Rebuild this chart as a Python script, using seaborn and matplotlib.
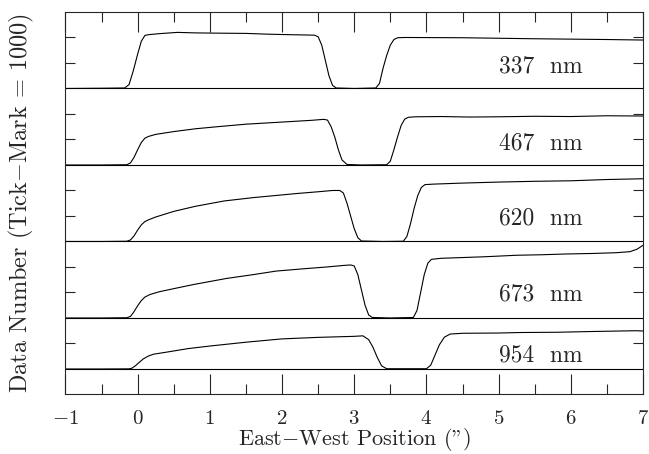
import numpy as np
import pandas as pd
import matplotlib
matplotlib.use('Agg')
import matplotlib.pyplot as plt
import seaborn as sns
from matplotlib.ticker import FixedLocator, MultipleLocator

# east-west scans, data number above the sky level, one list pair per filter
bands = ['337  nm', '467  nm', '620  nm', '673  nm', '954  nm']

x337 = [-1.0, -0.5, -0.18, -0.12, -0.06, 0.0, 0.05, 0.1, 0.15, 0.3, 0.55, 0.8, 1.1, 1.5,
        1.8, 2.1, 2.3, 2.45, 2.5, 2.55, 2.6, 2.65, 2.7, 2.75, 3.0, 3.3, 3.35, 3.4, 3.45,
        3.5, 3.55, 3.6, 3.7, 4.5, 5.5, 6.5, 7.0]
dn337 = [0, 10, 20, 150, 700, 1350, 1850, 2080, 2110, 2150, 2200, 2180, 2170, 2160,
         2130, 2110, 2100, 2090, 2030, 1700, 1100, 500, 120, 20, 0, 20, 200, 800, 1300,
         1700, 1920, 1990, 2000, 1990, 1950, 1920, 1900]

x467 = [-1.0, -0.5, -0.15, -0.1, -0.05, 0.0, 0.05, 0.1, 0.15, 0.25, 0.5, 0.8, 1.1, 1.5,
        1.8, 2.1, 2.4, 2.58, 2.63, 2.68, 2.73, 2.78, 2.83, 2.9, 3.1, 3.45, 3.5, 3.55, 3.6,
        3.65, 3.7, 3.75, 3.85, 4.2, 4.6, 5.0, 5.5, 6.0, 6.5, 7.0]
dn467 = [0, 0, 10, 80, 300, 600, 880, 1050, 1120, 1200, 1310, 1420, 1500, 1600,
         1650, 1700, 1750, 1790, 1760, 1500, 1100, 600, 200, 20, 0, 10, 150, 600, 1100,
         1550, 1800, 1870, 1890, 1900, 1880, 1890, 1910, 1900, 1930, 1920]

x620 = [-1.0, -0.5, -0.15, -0.1, -0.05, 0.0, 0.05, 0.1, 0.15, 0.25, 0.5, 0.8, 1.2, 1.6,
        1.9, 2.2, 2.5, 2.7, 2.8, 2.85, 2.9, 2.95, 3.0, 3.05, 3.1, 3.4, 3.68, 3.73, 3.78,
        3.83, 3.88, 3.93, 3.98, 4.1, 4.5, 5.0, 5.5, 6.0, 6.5, 7.0]
dn620 = [0, 0, 10, 60, 220, 450, 650, 780, 850, 960, 1180, 1380, 1590, 1720,
         1800, 1880, 1950, 2000, 2000, 1900, 1500, 1000, 500, 150, 20, 0, 10, 200, 700,
         1300, 1800, 2120, 2230, 2250, 2290, 2330, 2360, 2380, 2430, 2460]

x673 = [-1.0, -0.5, -0.15, -0.1, -0.05, 0.0, 0.05, 0.1, 0.17, 0.3, 0.5, 0.77, 1.0, 1.23,
        1.6, 1.92, 2.3, 2.62, 2.85, 2.95, 3.0, 3.05, 3.1, 3.15, 3.2, 3.25, 3.5, 3.82, 3.87,
        3.92, 3.97, 4.02, 4.07, 4.2, 4.5, 4.8, 5.25, 5.6, 5.94, 6.3, 6.63, 6.82, 6.92, 7.0]
dn673 = [0, 0, 10, 60, 250, 480, 680, 820, 920, 1030, 1150, 1310, 1430, 1550,
         1700, 1840, 1930, 2000, 2060, 2080, 2040, 1700, 1100, 500, 120, 20, 0, 20, 300,
         1000, 1700, 2150, 2300, 2340, 2370, 2400, 2460, 2480, 2510, 2530, 2560, 2600, 2700, 2850]

x954 = [-1.0, -0.5, -0.12, -0.08, -0.03, 0.03, 0.08, 0.15, 0.22, 0.4, 0.7, 1.0, 1.5,
        2.0, 2.5, 3.0, 3.12, 3.2, 3.26, 3.32, 3.38, 3.45, 4.0, 4.06, 4.12, 4.18, 4.25,
        4.33, 4.5, 5.0, 5.3, 5.8, 6.3, 6.9, 7.0]
dn954 = [0, 0, 5, 30, 130, 280, 400, 510, 580, 660, 800, 900, 1050,
         1180, 1240, 1280, 1300, 1150, 850, 450, 120, 10, 10, 150, 550, 950, 1250,
         1370, 1400, 1410, 1430, 1440, 1470, 1500, 1490]

xs = [x337, x467, x620, x673, x954]
dns = [dn337, dn467, dn620, dn673, dn954]

# vertical stacking of the scans and where the filter labels sit
offsets = [11000, 8000, 5000, 2000, 0]
label_dn = [870, 830, 890, 930, 550]
label_x = 5.58

sns.set_style('ticks')
plt.rcParams['font.family'] = ['cmr10', 'DejaVu Serif']
plt.rcParams['mathtext.fontset'] = 'cm'
plt.rcParams['axes.formatter.use_mathtext'] = True
plt.rcParams['axes.linewidth'] = 0.8

fig = plt.figure(figsize=(6.49, 4.54), dpi=100)
ax = fig.add_axes([0.1009, 0.1311, 0.8898, 0.8425])

for band, x, dn, off, ly in zip(bands, xs, dns, offsets, label_dn):
    df = pd.DataFrame({'x': x, 'y': np.array(dn) + off})
    sns.lineplot(data=df, x='x', y='y', ax=ax, color='black', lw=0.8,
                 sort=False, estimator=None)
    ax.axhline(off, color='black', lw=0.8)
    ax.text(label_x, off + ly, band, ha='center', va='center', fontsize=17)

ax.set_xlim(-1, 7)
ax.set_ylim(-1000, 14000)
ax.xaxis.set_major_locator(MultipleLocator(1))
ax.xaxis.set_minor_locator(MultipleLocator(0.5))
ytick = [t + off for off, n in zip(offsets, [3, 3, 3, 3, 2]) for t in range(1000, n * 1000, 1000)]
ax.yaxis.set_major_locator(FixedLocator(ytick))

ax.tick_params(axis='x', which='major', direction='in', top=True, bottom=True,
               length=14.4, width=0.8, labelsize=15, pad=11)
ax.tick_params(axis='x', which='minor', direction='in', top=True, bottom=True,
               length=7.2, width=0.8)
ax.tick_params(axis='y', which='major', direction='in', left=True, right=True,
               length=7.2, width=0.8, labelleft=False)

ax.set_xlabel(r'East$-$West Position (")', fontsize=16, labelpad=-1)
ax.set_ylabel(r'Data Number (Tick$-$Mark = 1000)', fontsize=17.5, labelpad=21)

fig.savefig('out.png', dpi=100)
